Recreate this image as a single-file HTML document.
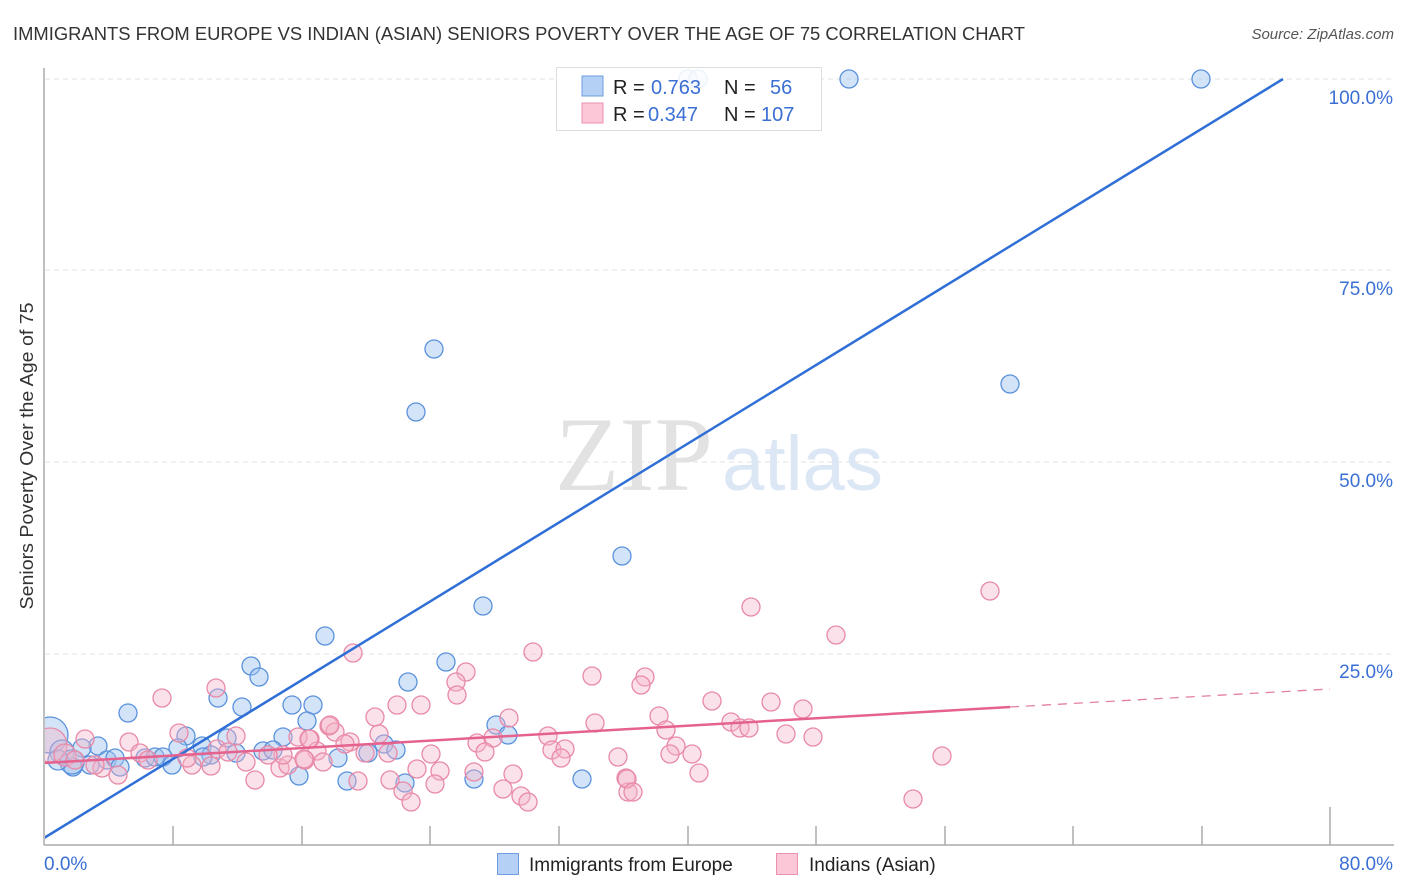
<!DOCTYPE html>
<html><head><meta charset="utf-8"><style>
html,body{margin:0;padding:0;background:#fff;}
svg{display:block;font-family:"Liberation Sans",sans-serif;}
</style></head><body>
<svg width="1406" height="892" viewBox="0 0 1406 892" xmlns="http://www.w3.org/2000/svg">
<text x="13" y="40" font-size="18" fill="#333" textLength="1012" lengthAdjust="spacingAndGlyphs">IMMIGRANTS FROM EUROPE VS INDIAN (ASIAN) SENIORS POVERTY OVER THE AGE OF 75 CORRELATION CHART</text>
<text x="1394" y="39" font-size="15" fill="#555" font-style="italic" text-anchor="end">Source: ZipAtlas.com</text>
<g stroke="#e0e0e0" stroke-width="1" stroke-dasharray="5,4">
<line x1="45" y1="79" x2="1394" y2="79"/><line x1="45" y1="270" x2="1394" y2="270"/><line x1="45" y1="462" x2="1394" y2="462"/><line x1="45" y1="654" x2="1394" y2="654"/>
</g>
<text x="555" y="490" font-size="106" fill="#e2e2e2" textLength="158" lengthAdjust="spacingAndGlyphs" font-family="Liberation Serif,serif">ZIP</text>
<text x="722" y="490" font-size="77" fill="#dce7f6" textLength="161" lengthAdjust="spacingAndGlyphs">atlas</text>
<g id="blue" fill="rgba(160,196,240,0.45)" stroke="#5a92dc" stroke-width="1.3">
<circle cx="849" cy="79" r="9"/><circle cx="1201" cy="79" r="9"/><circle cx="688" cy="79" r="9"/><circle cx="698" cy="79" r="9"/><circle cx="434" cy="349" r="9"/><circle cx="416" cy="412" r="9"/><circle cx="1010" cy="384" r="9"/><circle cx="622" cy="556" r="9"/><circle cx="483" cy="606" r="9"/><circle cx="325" cy="636" r="9"/><circle cx="446" cy="662" r="9"/><circle cx="251" cy="666" r="9"/><circle cx="259" cy="677" r="9"/><circle cx="408" cy="682" r="9"/><circle cx="218" cy="698" r="9"/><circle cx="128" cy="713" r="9"/><circle cx="242" cy="707" r="9"/><circle cx="292" cy="705" r="9"/><circle cx="313" cy="705" r="9"/><circle cx="307" cy="721" r="9"/><circle cx="496" cy="725" r="9"/><circle cx="508" cy="735" r="9"/><circle cx="384" cy="744" r="9"/><circle cx="396" cy="750" r="9"/><circle cx="338" cy="758" r="9"/><circle cx="368" cy="753" r="9"/><circle cx="347" cy="781" r="9"/><circle cx="405" cy="783" r="9"/><circle cx="474" cy="779" r="9"/><circle cx="582" cy="779" r="9"/><circle cx="299" cy="776" r="9"/><circle cx="283" cy="737" r="9"/><circle cx="227" cy="738" r="9"/><circle cx="186" cy="736" r="9"/><circle cx="178" cy="748" r="9"/><circle cx="202" cy="746" r="9"/><circle cx="211" cy="755" r="9"/><circle cx="236" cy="753" r="9"/><circle cx="263" cy="751" r="9"/><circle cx="273" cy="750" r="9"/><circle cx="98" cy="746" r="9"/><circle cx="82" cy="748" r="9"/><circle cx="107" cy="760" r="9"/><circle cx="115" cy="758" r="9"/><circle cx="120" cy="767" r="9"/><circle cx="73" cy="767" r="9"/><circle cx="90" cy="765" r="9"/><circle cx="145" cy="758" r="9"/><circle cx="155" cy="757" r="9"/><circle cx="163" cy="757" r="9"/><circle cx="172" cy="765" r="9"/><circle cx="203" cy="757" r="9"/><circle cx="50" cy="735" r="18"/><circle cx="62" cy="752" r="12"/><circle cx="72" cy="762" r="12"/><circle cx="58" cy="760" r="10"/>
</g>
<g id="pink" fill="rgba(246,180,200,0.4)" stroke="#e88aa8" stroke-width="1.3">
<circle cx="990" cy="591" r="9"/><circle cx="751" cy="607" r="9"/><circle cx="836" cy="635" r="9"/><circle cx="533" cy="652" r="9"/><circle cx="353" cy="653" r="9"/><circle cx="466" cy="672" r="9"/><circle cx="592" cy="676" r="9"/><circle cx="645" cy="677" r="9"/><circle cx="641" cy="685" r="9"/><circle cx="456" cy="682" r="9"/><circle cx="457" cy="695" r="9"/><circle cx="216" cy="688" r="9"/><circle cx="162" cy="698" r="9"/><circle cx="712" cy="701" r="9"/><circle cx="771" cy="702" r="9"/><circle cx="397" cy="705" r="9"/><circle cx="421" cy="705" r="9"/><circle cx="803" cy="709" r="9"/><circle cx="375" cy="717" r="9"/><circle cx="509" cy="718" r="9"/><circle cx="659" cy="716" r="9"/><circle cx="595" cy="723" r="9"/><circle cx="666" cy="730" r="9"/><circle cx="731" cy="722" r="9"/><circle cx="740" cy="728" r="9"/><circle cx="749" cy="728" r="9"/><circle cx="786" cy="734" r="9"/><circle cx="813" cy="737" r="9"/><circle cx="329" cy="726" r="9"/><circle cx="335" cy="732" r="9"/><circle cx="379" cy="734" r="9"/><circle cx="310" cy="739" r="9"/><circle cx="350" cy="742" r="9"/><circle cx="548" cy="736" r="9"/><circle cx="477" cy="743" r="9"/><circle cx="493" cy="738" r="9"/><circle cx="485" cy="752" r="9"/><circle cx="552" cy="750" r="9"/><circle cx="565" cy="749" r="9"/><circle cx="561" cy="758" r="9"/><circle cx="618" cy="757" r="9"/><circle cx="317" cy="751" r="9"/><circle cx="305" cy="760" r="9"/><circle cx="323" cy="762" r="9"/><circle cx="365" cy="753" r="9"/><circle cx="388" cy="753" r="9"/><circle cx="431" cy="754" r="9"/><circle cx="417" cy="769" r="9"/><circle cx="440" cy="771" r="9"/><circle cx="474" cy="772" r="9"/><circle cx="513" cy="774" r="9"/><circle cx="626" cy="778" r="9"/><circle cx="358" cy="781" r="9"/><circle cx="390" cy="780" r="9"/><circle cx="403" cy="791" r="9"/><circle cx="435" cy="784" r="9"/><circle cx="411" cy="802" r="9"/><circle cx="503" cy="789" r="9"/><circle cx="521" cy="796" r="9"/><circle cx="528" cy="802" r="9"/><circle cx="628" cy="792" r="9"/><circle cx="676" cy="746" r="9"/><circle cx="670" cy="754" r="9"/><circle cx="692" cy="754" r="9"/><circle cx="699" cy="773" r="9"/><circle cx="627" cy="779" r="9"/><circle cx="633" cy="792" r="9"/><circle cx="942" cy="756" r="9"/><circle cx="913" cy="799" r="9"/><circle cx="129" cy="742" r="9"/><circle cx="85" cy="739" r="9"/><circle cx="179" cy="733" r="9"/><circle cx="236" cy="736" r="9"/><circle cx="298" cy="737" r="9"/><circle cx="309" cy="739" r="9"/><circle cx="330" cy="725" r="9"/><circle cx="255" cy="780" r="9"/><circle cx="118" cy="775" r="9"/><circle cx="102" cy="768" r="9"/><circle cx="192" cy="765" r="9"/><circle cx="211" cy="766" r="9"/><circle cx="246" cy="762" r="9"/><circle cx="280" cy="768" r="9"/><circle cx="288" cy="765" r="9"/><circle cx="304" cy="759" r="9"/><circle cx="283" cy="755" r="9"/><circle cx="217" cy="749" r="9"/><circle cx="50" cy="745" r="17"/><circle cx="65" cy="755" r="11"/><circle cx="75" cy="760" r="9"/><circle cx="140" cy="753" r="9"/><circle cx="148" cy="760" r="9"/><circle cx="228" cy="752" r="9"/><circle cx="268" cy="755" r="9"/><circle cx="187" cy="758" r="9"/><circle cx="95" cy="765" r="9"/><circle cx="345" cy="744" r="9"/>
</g>
<line x1="44" y1="838" x2="1283" y2="79" stroke="#2f6fd6" stroke-width="2.5"/>
<line x1="44" y1="763" x2="1010" y2="707" stroke="#e5628f" stroke-width="2.5"/>
<line x1="1010" y1="707" x2="1330" y2="689" stroke="#e5809f" stroke-width="1.3" stroke-dasharray="9,7"/>
<rect x="0" y="60" width="45" height="790" fill="#fff"/>
<g stroke="#aaa" stroke-width="1.5">
<line x1="44" y1="68" x2="44" y2="845"/><line x1="44" y1="845" x2="1394" y2="845"/>
<line x1="173" y1="826" x2="173" y2="845"/><line x1="302" y1="826" x2="302" y2="845"/><line x1="430" y1="826" x2="430" y2="845"/><line x1="559" y1="826" x2="559" y2="845"/><line x1="688" y1="826" x2="688" y2="845"/><line x1="816" y1="826" x2="816" y2="845"/><line x1="945" y1="826" x2="945" y2="845"/><line x1="1073" y1="826" x2="1073" y2="845"/><line x1="1202" y1="826" x2="1202" y2="845"/><line x1="1330" y1="807" x2="1330" y2="845"/>
</g>
<g font-size="19" fill="#3a6fd4" text-anchor="end">
<text x="1393" y="104">100.0%</text><text x="1393" y="295">75.0%</text><text x="1393" y="487">50.0%</text><text x="1393" y="678">25.0%</text>
<text x="1393" y="870">80.0%</text>
</g>
<text x="44" y="870" font-size="19" fill="#3a6fd4">0.0%</text>
<text transform="translate(33,456) rotate(-90)" font-size="18" fill="#333" text-anchor="middle" textLength="307" lengthAdjust="spacingAndGlyphs">Seniors Poverty Over the Age of 75</text>
<rect x="556.5" y="67.5" width="265" height="63" fill="rgba(255,255,255,0.88)" stroke="#ddd"/>
<rect x="582" y="76" width="21" height="20" fill="#b5d0f5" stroke="#6f9de0"/>
<rect x="582" y="103" width="21" height="20" fill="#fcc8d8" stroke="#ea92ae"/>
<g font-size="20">
<text x="613" y="94" fill="#222">R =</text><text x="651" y="94" fill="#3a6fd4">0.763</text><text x="724" y="94" fill="#222">N =</text><text x="770" y="94" fill="#3a6fd4">56</text>
<text x="613" y="121" fill="#222">R =</text><text x="648" y="121" fill="#3a6fd4">0.347</text><text x="724" y="121" fill="#222">N =</text><text x="761" y="121" fill="#3a6fd4">107</text>
</g>
<rect x="497.5" y="853.5" width="21" height="21" fill="#b5d0f5" stroke="#6f9de0"/>
<text x="529" y="871" font-size="19" fill="#222">Immigrants from Europe</text>
<rect x="776.5" y="853.5" width="21" height="21" fill="#fcc8d8" stroke="#ea92ae"/>
<text x="809" y="871" font-size="19" fill="#222">Indians (Asian)</text>
</svg>
</body></html>
